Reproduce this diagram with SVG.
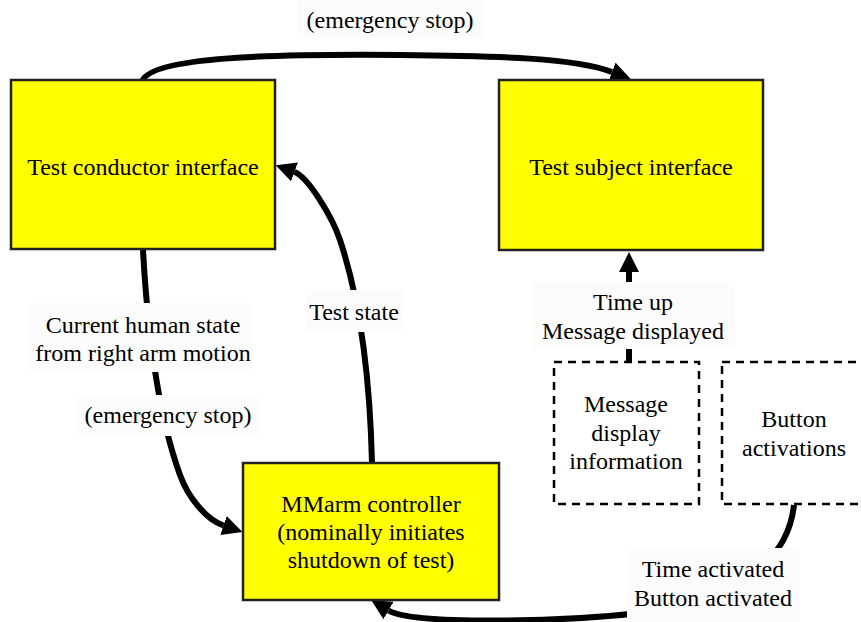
<svg xmlns="http://www.w3.org/2000/svg" width="861" height="622" viewBox="0 0 861 622">
  <defs>
    <style>
      text { font-family: 'Liberation Serif', Tinos, 'Noto Serif', 'DejaVu Serif', FreeSerif, 'Nimbus Roman', Times, serif; font-size: 24px; fill: #000; text-anchor: middle; }
      .box { fill: #ffff00; stroke: #222; stroke-width: 2.5; }
      .dash { fill: #fff; stroke: #000; stroke-width: 2.5; stroke-dasharray: 8 6; }
      .edge { fill: none; stroke: #000; stroke-width: 6; marker-end: url(#head); }
      .lbl { fill: #fcfcfc; }
    </style>
    <!-- arrowhead: base sits on the path end, tip extends 20px beyond -->
    <marker id="head" viewBox="0 0 20 20" markerWidth="20" markerHeight="20" markerUnits="userSpaceOnUse" refX="0" refY="10" orient="auto">
      <path d="M0,0 L20,10 L0,20 Z" fill="#000"/>
    </marker>
  </defs>

  <g id="connectors">
    <!-- conductor -> subject (emergency stop) -->
    <path class="edge" d="M142,82 C148,56 280,54 400,55 C500,56 575,58 612,72"/>
    <!-- conductor -> controller -->
    <path class="edge" d="M143,250 C148,340 160,420 180,475 C188,497 206,519.6 223.5,525.5"/>
    <!-- controller -> conductor (test state) -->
    <path class="edge" d="M372,463 C370,380 360,300 340,240 C332,216 307.7,176.8 294.5,172"/>
    <!-- message display -> subject -->
    <path class="edge" d="M629,362 L629,272"/>
    <!-- button activations -> controller -->
    <path class="edge" d="M794,505 C788,560 740,600 640,613 C560,622 413,625 388.5,610.5"/>

    <g id="label-estop-top">
      <rect class="lbl" x="297" y="0" width="187" height="38"/>
      <text x="390" y="28">(emergency stop)</text>
    </g>
    <g id="label-human-state">
      <rect class="lbl" x="27" y="303" width="226" height="69"/>
      <text x="143" y="333">Current human state</text>
      <text x="143" y="361">from right arm motion</text>
    </g>
    <g id="label-estop-left">
      <rect class="lbl" x="78" y="395" width="180" height="41"/>
      <text x="168" y="423">(emergency stop)</text>
    </g>
    <g id="label-test-state">
      <rect class="lbl" x="306" y="290" width="97" height="42"/>
      <text x="354" y="320">Test state</text>
    </g>
    <g id="label-time-up">
      <rect class="lbl" x="532" y="282" width="203" height="67"/>
      <text x="633" y="310">Time up</text>
      <text x="633" y="339">Message displayed</text>
    </g>
    <g id="label-time-activated">
      <rect class="lbl" x="627" y="548" width="173" height="74"/>
      <text x="713" y="577">Time activated</text>
      <text x="713" y="606">Button activated</text>
    </g>
  </g>

  <g id="test-conductor-interface">
    <rect class="box" x="11" y="80" width="264" height="169"/>
    <text x="143" y="175">Test conductor interface</text>
  </g>

  <g id="test-subject-interface">
    <rect class="box" x="499" y="80" width="264" height="170"/>
    <text x="631" y="175">Test subject interface</text>
  </g>

  <g id="mmarm-controller">
    <rect class="box" x="243" y="463" width="256" height="137"/>
    <text x="371" y="512">MMarm controller</text>
    <text x="371" y="540">(nominally initiates</text>
    <text x="371" y="568">shutdown of test)</text>
  </g>

  <g id="message-display-information">
    <rect class="dash" x="554" y="362" width="145" height="142"/>
    <text x="626" y="412">Message</text>
    <text x="626" y="441">display</text>
    <text x="626" y="469">information</text>
  </g>

  <g id="button-activations">
    <rect class="dash" x="722" y="362" width="144" height="142"/>
    <text x="794" y="427">Button</text>
    <text x="794" y="456">activations</text>
  </g>
</svg>
